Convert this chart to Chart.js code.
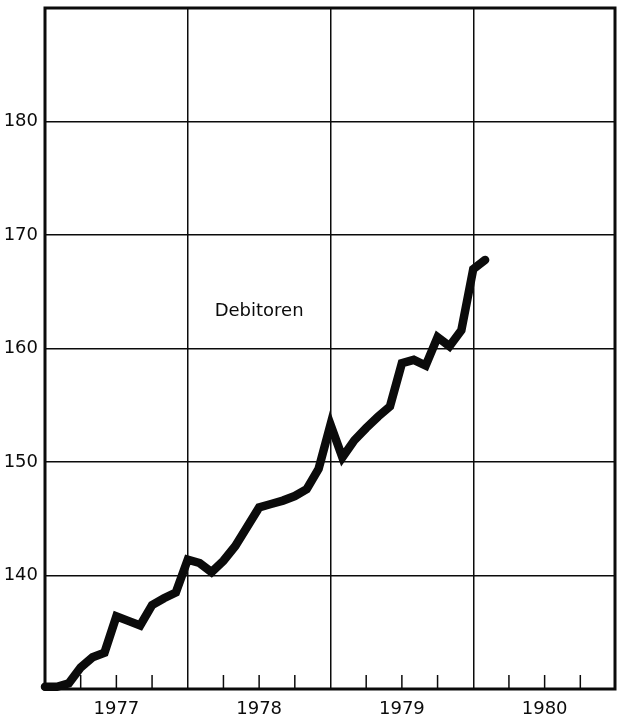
<!DOCTYPE html>
<html>
<head>
<meta charset="utf-8">
<script src="https://cdn.jsdelivr.net/npm/chart.js@4/dist/chart.umd.min.js"></script>
<style>
  html, body { margin: 0; padding: 0; background: #fff; }
  #wrap { width: 617px; height: 724px; }
</style>
</head>
<body>
<div id="wrap"><canvas id="chart" width="617" height="724"></canvas></div>
<script>
// months counted from end of Dec 1976 (0) – end of each month
const monthIndex = [0, 1, 2, 3, 4, 5, 6, 7, 8, 9, 10, 11, 12,
  13, 14, 15, 16, 17, 18, 19, 20, 21, 22, 23, 24,
  25, 26, 27, 28, 29, 30, 31, 32, 33, 34, 35, 36, 37];
const debitoren = [130.2, 130.2, 130.5, 131.9, 132.8, 133.2, 136.4, 136.0, 135.6, 137.4, 138.0, 138.5, 141.4,
  141.1, 140.3, 141.3, 142.6, 144.3, 146.0, 146.3, 146.6, 147.0, 147.6, 149.4, 153.3,
  150.4, 151.9, 153.0, 154.0, 154.9, 158.7, 159.0, 158.5, 161.0, 160.2, 161.6, 167.0, 167.8];
const yearLabels = ["1977", "1978", "1979", "1980"];
const yTickLabels = [140, 150, 160, 170, 180];
const seriesLabel = "Debitoren";
const seriesLabelPos = { x: 18, y: 163.3 };

const FONT = "'DejaVu Sans', sans-serif";
const INK = "#0b0b0b";

// short inward ticks each quarter, frame around the plot, series label
const extras = {
  id: "extras",
  afterDraw(chart) {
    const { ctx, chartArea: a, scales } = chart;
    const x = scales.x, y = scales.y;
    ctx.save();
    ctx.strokeStyle = INK;
    ctx.lineWidth = 1.5;
    for (let m = 3; m < 48; m += 3) {
      if (m % 12 === 0) continue;
      const px = x.getPixelForValue(m);
      ctx.beginPath();
      ctx.moveTo(px, a.bottom);
      ctx.lineTo(px, a.bottom - 14);
      ctx.stroke();
    }
    ctx.lineWidth = 3;
    ctx.strokeRect(a.left, a.top, a.right - a.left - 1, a.bottom - a.top);

    ctx.fillStyle = INK;
    ctx.font = "18px " + FONT;
    ctx.textAlign = "center";
    ctx.textBaseline = "middle";
    ctx.fillText(seriesLabel, x.getPixelForValue(seriesLabelPos.x), y.getPixelForValue(seriesLabelPos.y));
    ctx.restore();
  }
};

new Chart(document.getElementById("chart").getContext("2d"), {
  type: "line",
  data: {
    datasets: [{
      label: seriesLabel,
      data: monthIndex.map((m, i) => ({ x: m, y: debitoren[i] })),
      borderColor: INK,
      borderWidth: 8.5,
      borderJoinStyle: "miter",
      borderCapStyle: "round",
      pointRadius: 0,
      tension: 0,
      clip: false
    }]
  },
  options: {
    responsive: false,
    animation: false,
    layout: { padding: { top: 8, right: 1, left: 0, bottom: 0 } },
    plugins: { legend: { display: false }, tooltip: { enabled: false } },
    scales: {
      x: {
        type: "linear",
        min: 0,
        max: 48,
        afterFit(scale) {
          scale.height = 35;
          scale.paddingLeft = 0;
          scale.paddingRight = 0;
        },
        border: { display: false },
        grid: {
          drawTicks: false,
          lineWidth: 1.5,
          color: (c) => (c.tick && c.tick.value % 12 === 0 && c.tick.value > 0 && c.tick.value < 48) ? INK : "rgba(0,0,0,0)"
        },
        ticks: {
          stepSize: 3,
          autoSkip: false,
          maxRotation: 0,
          padding: 10,
          color: INK,
          font: { family: FONT, size: 18 },
          callback: (v) => (v % 12 === 6 ? yearLabels[(v - 6) / 12] : "")
        }
      },
      y: {
        min: 130,
        max: 190,
        afterFit(scale) {
          scale.width = 45;
          scale.paddingTop = 0;
          scale.paddingBottom = 0;
        },
        border: { display: false },
        grid: {
          drawTicks: false,
          lineWidth: 1.5,
          color: INK
        },
        ticks: {
          stepSize: 10,
          padding: 7,
          color: INK,
          font: { family: FONT, size: 18 },
          callback: (v) => (yTickLabels.includes(v) ? String(v) : "")
        }
      }
    }
  },
  plugins: [extras]
});
</script>
</body>
</html>
